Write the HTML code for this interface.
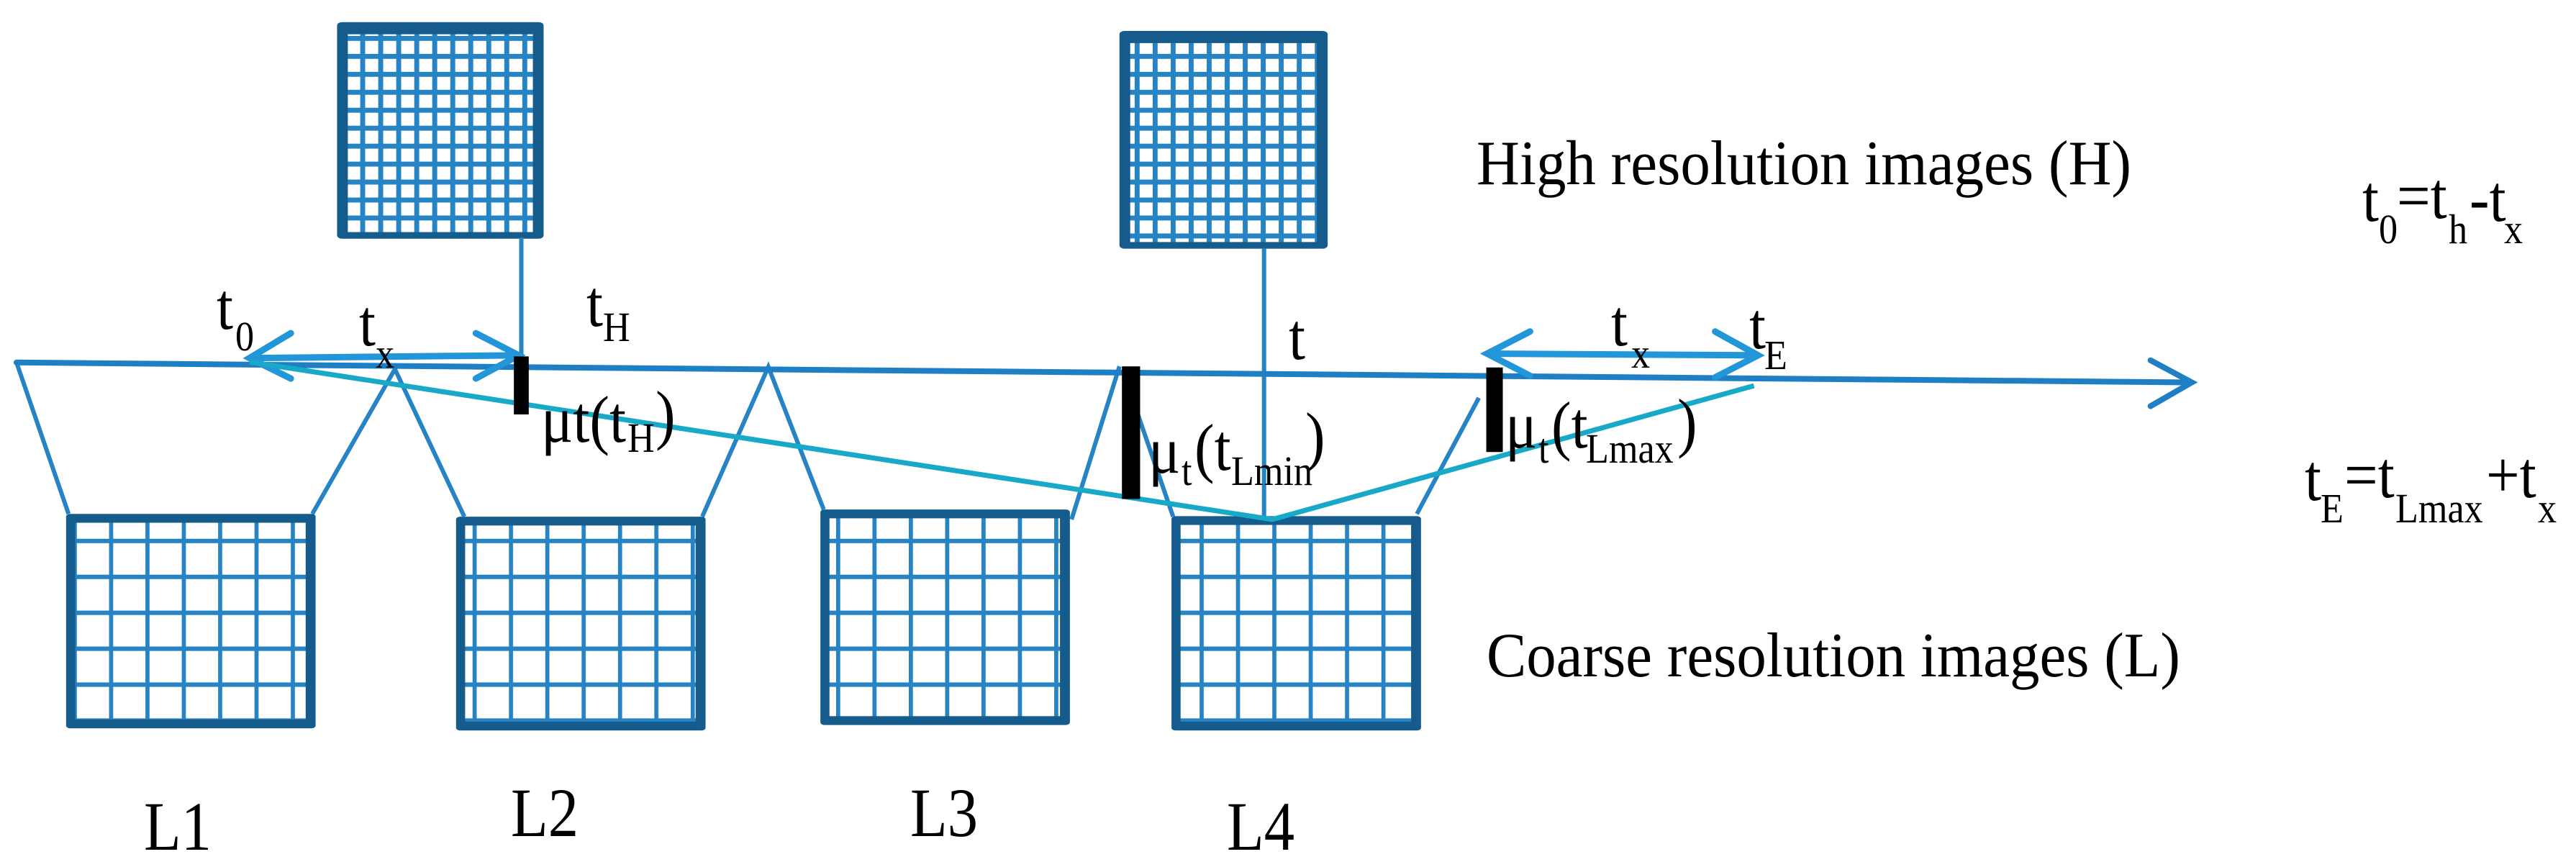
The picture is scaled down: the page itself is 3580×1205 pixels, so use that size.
<!DOCTYPE html>
<html><head><meta charset="utf-8"><style>
html,body{margin:0;padding:0;background:#fff;}
svg{display:block;position:absolute;left:0;top:0;}
text{font-family:"Liberation Serif",serif;fill:#000;}
</style></head><body>
<svg width="3580" height="1205" viewBox="0 0 3118 1569" preserveAspectRatio="none" xmlns="http://www.w3.org/2000/svg">
<defs>
<pattern id="ph" patternUnits="userSpaceOnUse" width="21.8" height="32.5" x="0" y="0">
<rect width="21.8" height="32.5" fill="#2683c4"/><rect x="6" y="9" width="15.8" height="23.5" fill="#fff"/>
</pattern>
<pattern id="pl" patternUnits="userSpaceOnUse" width="44" height="65" x="0" y="0">
<rect width="44" height="65" fill="#2683c4"/><rect x="5" y="8" width="39" height="57" fill="#fff"/>
</pattern>
</defs>
<rect x="408" y="40" width="250" height="392" rx="6" fill="#155b8b"/>
<rect x="421" y="62" width="224" height="358" fill="url(#ph)"/>
<rect x="1355" y="56" width="252" height="394" rx="6" fill="#155b8b"/>
<rect x="1368" y="78" width="226" height="360" fill="url(#ph)"/>
<rect x="80" y="930" width="302" height="388" rx="5" fill="#155b8b"/>
<rect x="91" y="946" width="279" height="356" fill="url(#pl)"/>
<rect x="552" y="935" width="302" height="387" rx="5" fill="#155b8b"/>
<rect x="563" y="951" width="279" height="355" fill="url(#pl)"/>
<rect x="993" y="922" width="302" height="390" rx="5" fill="#155b8b"/>
<rect x="1004" y="938" width="279" height="358" fill="url(#pl)"/>
<rect x="1418" y="934" width="302" height="388" rx="5" fill="#155b8b"/>
<rect x="1429" y="950" width="279" height="356" fill="url(#pl)"/>
<g stroke="#2683c4" stroke-width="6" fill="none">
<line x1="631" y1="430" x2="631" y2="645" vector-effect="non-scaling-stroke"/>
<line x1="1530" y1="450" x2="1530" y2="940" vector-effect="non-scaling-stroke"/>
<polyline points="20,656 83,930" vector-effect="non-scaling-stroke"/>
<polyline points="378,930 478,668 562,935" vector-effect="non-scaling-stroke"/>
<polyline points="850,935 930,664 997,922" vector-effect="non-scaling-stroke"/>
<polyline points="1297,940 1355,663" vector-effect="non-scaling-stroke"/>
<polyline points="1375,740 1420,935" vector-effect="non-scaling-stroke"/>
<polyline points="1790,720 1715,930" vector-effect="non-scaling-stroke"/>
</g>
<g stroke="#1e7fc4" stroke-width="8" fill="none" stroke-linecap="round">
<line x1="20" y1="656" x2="2650" y2="692" vector-effect="non-scaling-stroke"/>
<polyline points="2603,652 2653,692 2603,735" vector-effect="non-scaling-stroke"/>
</g>
<g stroke="#2296d8" stroke-width="9" fill="none" stroke-linecap="round">
<line x1="304" y1="648" x2="626" y2="643" vector-effect="non-scaling-stroke"/>
<polyline points="352,603 302,648 352,685" vector-effect="non-scaling-stroke"/>
<polyline points="576,603 628,643 576,685" vector-effect="non-scaling-stroke"/>
<line x1="1802" y1="640" x2="2126" y2="643" vector-effect="non-scaling-stroke"/>
<polyline points="1852,600 1800,640 1852,680" vector-effect="non-scaling-stroke"/>
<polyline points="2076,600 2128,643 2076,683" vector-effect="non-scaling-stroke"/>
</g>
<g stroke="#18a9c9" stroke-width="7" fill="none">
<polyline points="302,655 1540,940 2123,698" vector-effect="non-scaling-stroke"/>
</g>
<rect x="622" y="645" width="18" height="105" fill="#000"/>
<rect x="1358" y="663" width="22" height="240" fill="#000"/>
<rect x="1799" y="665" width="20" height="153" fill="#000"/>
</svg>
<svg width="3580" height="1205" viewBox="0 0 3580 1205" xmlns="http://www.w3.org/2000/svg">
<text x="2052" y="256" font-size="88" textLength="910" lengthAdjust="spacingAndGlyphs">High resolution images (H)</text>
<text x="2066" y="940" font-size="88" textLength="964" lengthAdjust="spacingAndGlyphs">Coarse resolution images (L)</text>
<text x="200" y="1181" font-size="96" textLength="94" lengthAdjust="spacingAndGlyphs">L1</text>
<text x="710" y="1162" font-size="96" textLength="94" lengthAdjust="spacingAndGlyphs">L2</text>
<text x="1265" y="1162" font-size="96" textLength="94" lengthAdjust="spacingAndGlyphs">L3</text>
<text x="1705" y="1181" font-size="96" textLength="94" lengthAdjust="spacingAndGlyphs">L4</text>

<g font-size="92">
<text transform="translate(301,457) scale(0.9,1)">t</text>
<text transform="translate(327,487) scale(0.9,1)" font-size="58">0</text>
<text transform="translate(499,480) scale(0.9,1)">t</text>
<text transform="translate(522,511) scale(0.9,1)" font-size="58">x</text>
<text transform="translate(815,453) scale(0.9,1)">t</text>
<text transform="translate(838,474) scale(0.9,1)" font-size="58">H</text>
<text transform="translate(752,614) scale(0.9,1)">μt(t</text>
<text transform="translate(872,628) scale(0.9,1)" font-size="58">H</text>
<text transform="translate(911,607) scale(0.9,1)">)</text>

<text transform="translate(1596,657) scale(0.9,1)">μ</text>
<text transform="translate(1642,674) scale(0.9,1)" font-size="58">t</text>
<text transform="translate(1660,653) scale(0.9,1)">(t</text>
<text transform="translate(1711,674) scale(0.9,1)" font-size="58">Lmin</text>
<text transform="translate(1814,637) scale(0.9,1)">)</text>

<text transform="translate(1791,499) scale(0.9,1)">t</text>
<text transform="translate(2239,480) scale(0.9,1)">t</text>
<text transform="translate(2267,511) scale(0.9,1)" font-size="58">x</text>
<text transform="translate(2431,484) scale(0.9,1)">t</text>
<text transform="translate(2452,513) scale(0.9,1)" font-size="58">E</text>

<text transform="translate(2092,622) scale(0.9,1)">μ</text>
<text transform="translate(2138,643) scale(0.9,1)" font-size="58">t</text>
<text transform="translate(2156,622) scale(0.9,1)">(t</text>
<text transform="translate(2204,643) scale(0.9,1)" font-size="58">Lmax</text>
<text transform="translate(2331,618) scale(0.9,1)">)</text>

<text transform="translate(3283,307) scale(0.9,1)">t</text>
<text transform="translate(3306,338) scale(0.9,1)" font-size="58">0</text>
<text transform="translate(3331,303) scale(0.9,1)">=t</text>
<text transform="translate(3403,338) scale(0.9,1)" font-size="58">h</text>
<text transform="translate(3432,307) scale(0.9,1)">-t</text>
<text transform="translate(3480,338) scale(0.9,1)" font-size="58">x</text>

<text transform="translate(3203,695) scale(0.9,1)">t</text>
<text transform="translate(3225,726) scale(0.9,1)" font-size="58">E</text>
<text transform="translate(3258,691) scale(0.9,1)">=t</text>
<text transform="translate(3329,726) scale(0.9,1)" font-size="58">Lmax</text>
<text transform="translate(3455,691) scale(0.9,1)">+t</text>
<text transform="translate(3527,726) scale(0.9,1)" font-size="58">x</text>
</g>
</svg>
</body></html>
